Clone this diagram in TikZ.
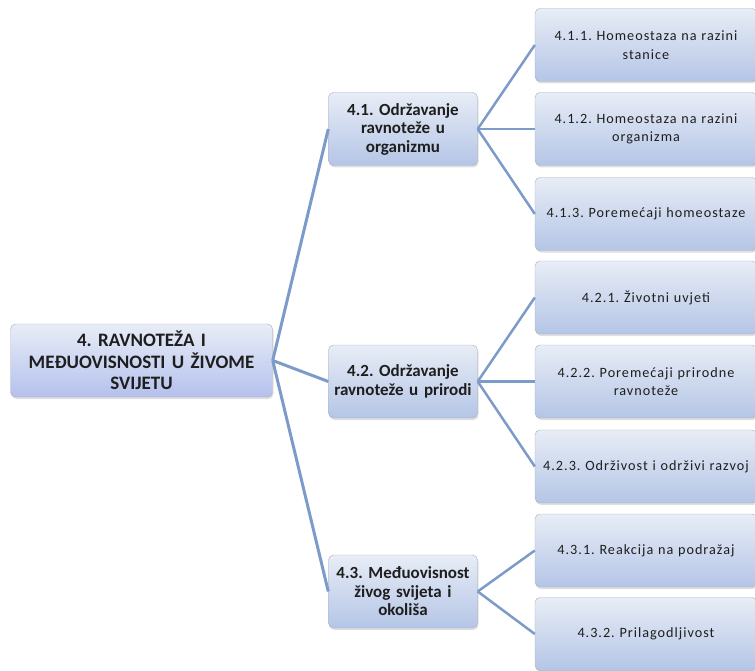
\documentclass[tikz,border=0pt]{standalone}
\usepackage{fontspec}
\setmainfont{Carlito}
\newfontfamily\leaffont[LetterSpace=7]{Carlito}
\usepackage{tikz}
\usetikzlibrary{shadows}

\definecolor{boxtop}{RGB}{232,237,246}
\definecolor{boxbot}{RGB}{180,197,230}
\definecolor{boxline}{RGB}{165,175,195}
\definecolor{linkblue}{RGB}{125,155,200}
\definecolor{txt}{RGB}{30,30,30}

\tikzset{
  box/.style={draw=boxline, rounded corners=5pt, top color=boxtop, bottom color=boxbot,
    align=center, text=txt, inner sep=2pt,
    drop shadow={opacity=0.25, shadow xshift=1pt, shadow yshift=-2pt}},
  topbox/.style={box, minimum width=261pt, minimum height=73pt, text width=258pt,
    font=\bfseries\fontsize{19}{21.5}\selectfont, bottom color=boxbot!90!blue!80},
  midbox/.style={box, minimum width=147pt, minimum height=73pt, text width=145pt,
    font=\bfseries\fontsize{17}{18.5}\selectfont},
  leafbox/.style={box, minimum width=222pt, minimum height=73pt, text width=218pt,
    font=\leaffont\fontsize{14.2}{18.5}\selectfont},
  link/.style={draw=linkblue, line width=3pt},
  leaflink/.style={draw=linkblue, line width=2.5pt}
}

\begin{document}
\frenchspacing
\begin{tikzpicture}[x=1pt, y=-1pt]
    \useasboundingbox (0,0) rectangle (755,671);

    \node[topbox] (root) at (141.5,360.5) {4. RAVNOTEŽA I\\ MEĐUOVISNOSTI U ŽIVOME\\ SVIJETU};

    \node[midbox] (org) at (403,129) {4.1. Održavanje\\ ravnoteže u\\ organizmu};
    \node[midbox] (pri) at (403,381.5) {4.2. Održavanje\\ ravnoteže u prirodi};
    \node[midbox] (ovi) at (403,591.5) {4.3. Međuovisnost\\ živog svijeta i\\ okoliša};

    \node[leafbox] (org1) at (646,45) {4.1.1. Homeostaza na razini\\ stanice};
    \node[leafbox] (org2) at (646,129) {4.1.2. Homeostaza na razini\\ organizma};
    \node[leafbox] (org3) at (646,214) {4.1.3. Poremećaji homeostaze};

    \node[leafbox] (pri1) at (646,297.5) {4.2.1. Životni uvjeti};
    \node[leafbox] (pri2) at (646,381.5) {4.2.2. Poremećaji prirodne\\ ravnoteže};
    \node[leafbox] (pri3) at (646,466.5) {4.2.3. Održivost i održivi razvoj};

    \node[leafbox] (ovi1) at (646,550.5) {4.3.1. Reakcija na podražaj};
    \node[leafbox] (ovi2) at (646,634) {4.3.2. Prilagodljivost};

    % root to second level
    \draw[link] (root.east) -- (org.west);
    \draw[link] (root.east) -- (pri.west);
    \draw[link] (root.east) -- (ovi.west);

    % second level to leaves
    \foreach \m in {org,pri} {
        \draw[leaflink] (\m.east) -- (\m1.west);
        \draw[leaflink] (\m.east) -- (\m2.west);
        \draw[leaflink] (\m.east) -- (\m3.west);
    }
    \draw[leaflink] (ovi.east) -- (ovi1.west);
    \draw[leaflink] (ovi.east) -- (ovi2.west);

\end{tikzpicture}
\end{document}
